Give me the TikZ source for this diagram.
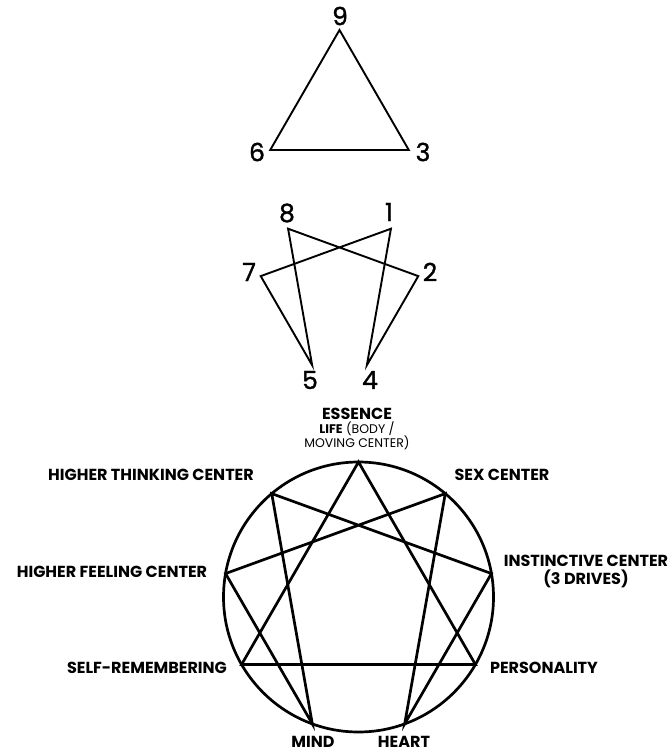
\documentclass[tikz,border=0pt]{standalone}
\usepackage{fontspec}
\setmainfont{Poppins}
\newfontfamily\numfont[FakeBold=1.2]{Poppins}
\usetikzlibrary{positioning}

\begin{document}
\begin{tikzpicture}[
  x=1pt, y=-1pt,
  lbl/.style={font=\bfseries\fontsize{16}{18}\selectfont, inner sep=0pt, align=center},
  num/.style={font=\numfont\fontsize{25}{25}\selectfont, inner sep=0pt},
  thinline/.style={line width=1.9pt, line join=miter},
  thickline/.style={line width=2.7pt, line join=miter}
]
  \useasboundingbox (0,0) rectangle (670,754);

  % law of three
  \foreach \n/\a in {9/90, 3/-30, 6/210}
    \coordinate (t\n) at ({339.5+80*cos(\a)},{110-80*sin(\a)});
  \draw[thinline] (t9) -- (t3) -- (t6) -- cycle;
  \node[num] (n9) at (340,16) {9};
  \node[num] (n6) at (257,152) {6};
  \node[num] (n3) at (423,152) {3};

  % law of seven
  \foreach \n/\a in {1/50, 2/10, 4/-70, 5/-110, 7/170, 8/130}
    \coordinate (h\n) at ({339.5+80*cos(\a)},{290-80*sin(\a)});
  \draw[thinline] (h1) -- (h4) -- (h2) -- (h8) -- (h5) -- (h7) -- cycle;
  \node[num] (n8) at (287,213) {8};
  \node[num] (n1) at (389,212) {1};
  \node[num] (n7) at (249,272) {7};
  \node[num] (n2) at (430,272) {2};
  \node[num] (n5) at (310,380) {5};
  \node[num] (n4) at (370,380) {4};

  % enneagram
  \coordinate (c) at (358.5,597);
  \draw[thickline] (c) circle[radius=135pt];
  \foreach \n/\a in {9/90, 1/50, 2/10, 3/-30, 4/-70, 5/-110, 6/-150, 7/170, 8/130}
    \coordinate (e\n) at ({358.5+135*cos(\a)},{597-135*sin(\a)});
  \draw[thickline] (e9) -- (e3) -- (e6) -- cycle;
  \draw[thickline] (e1) -- (e4) -- (e2) -- (e8) -- (e5) -- (e7) -- cycle;

  \node[lbl] (ess) at (357,414) {ESSENCE};
  \node[lbl, font=\fontsize{12.5}{14}\selectfont, below=2pt of ess] (life)
    {\textbf{LIFE} (BODY /\\MOVING CENTER)};
  \node[lbl] (htc) at (151,475) {HIGHER THINKING CENTER};
  \node[lbl] (sex) at (502,475) {SEX CENTER};
  \node[lbl] (ins) at (586,571) {INSTINCTIVE CENTER\\(3 DRIVES)};
  \node[lbl] (hfc) at (112,572) {HIGHER FEELING CENTER};
  \node[lbl] (srm) at (147,668) {SELF-REMEMBERING};
  \node[lbl] (per) at (544,668) {PERSONALITY};
  \node[lbl] (mnd) at (313,742) {MIND};
  \node[lbl] (hrt) at (404,742) {HEART};
\end{tikzpicture}
\end{document}
